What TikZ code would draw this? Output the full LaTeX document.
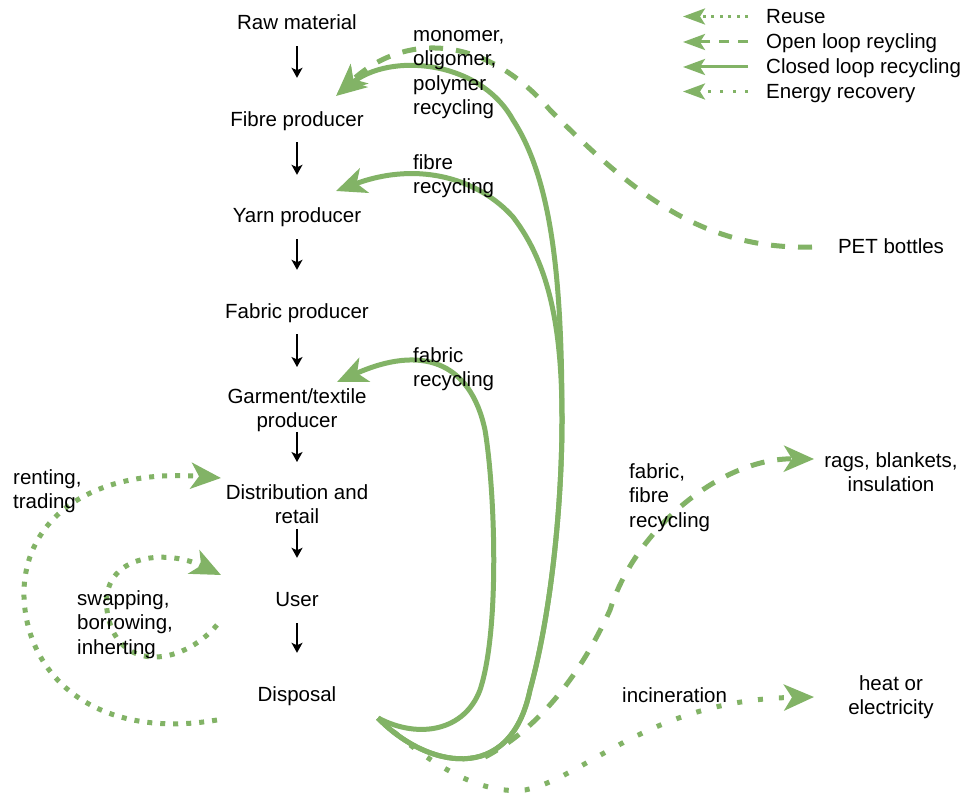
\documentclass[tikz,border=0pt]{standalone}
\usepackage{fontspec}
\setmainfont{Liberation Sans}
\usetikzlibrary{arrows.meta}
\definecolor{grn}{RGB}{130,179,102}
\begin{document}
\begin{tikzpicture}[x=1pt,y=-1pt,
  lbl/.style={inner sep=0pt, font=\fontsize{20.5}{24.5}\selectfont, text=black},
  main/.style={lbl, anchor=base},
  mlft/.style={lbl, align=left, anchor=north west},
  mctr/.style={lbl, align=center, anchor=north},
  legtxt/.style={inner sep=0pt, anchor=base west, font=\fontsize{20.5}{24}\selectfont, text height=14pt, text depth=0pt},
  blk/.style 2 args={line width=1.4pt, -{Stealth[length=10pt,width=11pt,inset=2.5pt]}, shorten <=#1, shorten >=#2},
  gline/.style={draw=grn, line width=5pt, -{Stealth[length=30pt,width=26pt,inset=8pt]}},
  closedl/.style={gline},
  openl/.style={gline, dash pattern=on 14pt off 13pt},
  reusel/.style={gline, dash pattern=on 5pt off 8pt},
  energyl/.style={gline, dash pattern=on 5pt off 16pt},
  legline/.style={draw=grn, line width=3pt, -{Stealth[length=22pt,width=16pt,inset=5pt]}},
]
\useasboundingbox (0,0) rectangle (966,794);
\fill[white] (0,0) rectangle (966,794);

% coordinates (connector ends)
\coordinate (dR) at (378,718);
\coordinate (openS) at (485,757);
\coordinate (fibreTip) at (336,96);
\coordinate (yarnTip) at (336,191);
\coordinate (garTip) at (337,382);
\coordinate (ragsTip) at (814,459);
\coordinate (heatTip) at (814,697);
\coordinate (petS) at (812,247);
\coordinate (petTip) at (337,94);
\coordinate (dL) at (217,720);
\coordinate (distTip) at (221,478);
\coordinate (uL) at (217,625);
\coordinate (userTip) at (221,575);

% green flows
\draw[openl] (petS) .. controls (700,250) and (630,190) .. (550,110) .. controls (490,40) and (410,28) .. (petTip);
\draw[energyl] (dR) .. controls (430,765) and (480,795) .. (525,790) .. controls (585,778) and (650,700) .. (heatTip);
\draw[openl] (openS) .. controls (545,725) and (585,665) .. (610,610) .. controls (635,530) and (720,458) .. (ragsTip);
\draw[closedl] (dR) .. controls (425,767) and (510,787) .. (530,690) .. controls (552,610) and (562,500) .. (562,420) .. controls (562,280) and (552,180) .. (513,120) .. controls (480,60) and (390,52) .. (fibreTip);
\draw[closedl] (dR) .. controls (425,767) and (510,787) .. (530,690) .. controls (552,610) and (562,500) .. (562,420) .. controls (562,330) and (550,265) .. (513,217) .. controls (480,180) and (420,160) .. (yarnTip);
\draw[closedl] (dR) .. controls (420,740) and (465,730) .. (480,690) .. controls (500,630) and (495,490) .. (485,430) .. controls (470,360) and (420,345) .. (garTip);
\draw[reusel] (dL) .. controls (100,740) and (27,680) .. (24,597) .. controls (22,520) and (90,468) .. (distTip);
\draw[reusel] (uL) .. controls (180,668) and (115,672) .. (107,610) .. controls (100,555) and (165,548) .. (userTip);

% main chain
\node[main] (raw) at (297,30) {\strut Raw material};
\node[main] (fibre) at (297,127) {\strut Fibre producer};
\node[main] (yarn) at (297,223) {\strut Yarn producer};
\node[main] (fabric) at (297,318) {\strut Fabric producer};
\node[mctr] (garment) at (297,385.85) {\strut Garment/textile\\producer\strut};
\node[mctr] (dist) at (297,481.85) {\strut Distribution and\\retail\strut};
\node[main] (user) at (297,606) {\strut User};
\node[main] (disposal) at (297,701) {\strut Disposal};

\draw[blk={8.65pt}{31.85pt}] (raw.south) -- (fibre.north);
\draw[blk={7.65pt}{30.85pt}] (fibre.south) -- (yarn.north);
\draw[blk={8.65pt}{30.85pt}] (yarn.south) -- (fabric.north);
\draw[blk={8.65pt}{18.85pt}] (fabric.south) -- (garment.north);
\draw[blk={-3.35pt}{19.85pt}] (garment.south) -- (dist.north);
\draw[blk={-2.35pt}{30.85pt}] (dist.south) -- (user.north);
\draw[blk={9.65pt}{30.85pt}] (user.south) -- (disposal.north);

% labels
\node[mlft] (lmono) at (413,24) {\strut monomer,\\oligomer,\\polymer\\recycling};
\node[mlft] (lfibre) at (413,152) {\strut fibre\\recycling};
\node[mlft] (lfabric) at (413,345) {\strut fabric\\recycling};
\node[main] (pet) at (891,254) {\strut PET bottles};
\node[mlft] (lrent) at (13,466.85) {\strut renting,\\trading};
\node[mlft] (lswap) at (77,587.85) {\strut swapping,\\borrowing,\\inherting};
\node[mlft] (lff) at (629,460.85) {\strut fabric,\\fibre\\recycling};
\node[mctr] (rags) at (891,449.85) {\strut rags, blankets,\\insulation};
\node[main, anchor=base west] (lincin) at (622,702) {\strut incineration};
\node[mctr] (heat) at (891,672.85) {\strut heat or\\electricity};

% legend
\node[legtxt] (t1) at (766,23.5) {Reuse};
\node[legtxt] (t2) at (766,49) {Open loop reycling};
\node[legtxt] (t3) at (766,74) {Closed loop recycling};
\node[legtxt] (t4) at (766,98.5) {Energy recovery};
\draw[legline, dash pattern=on 3pt off 5.5pt] ([xshift=-18pt]t1.west) -- ++(-65,0);
\draw[legline, dash pattern=on 10pt off 9pt] ([xshift=-18pt]t2.west) -- ++(-65,0);
\draw[legline] ([xshift=-18pt]t3.west) -- ++(-65,0);
\draw[legline, dash pattern=on 3pt off 9.5pt] ([xshift=-18pt]t4.west) -- ++(-65,0);
\end{tikzpicture}
\end{document}
